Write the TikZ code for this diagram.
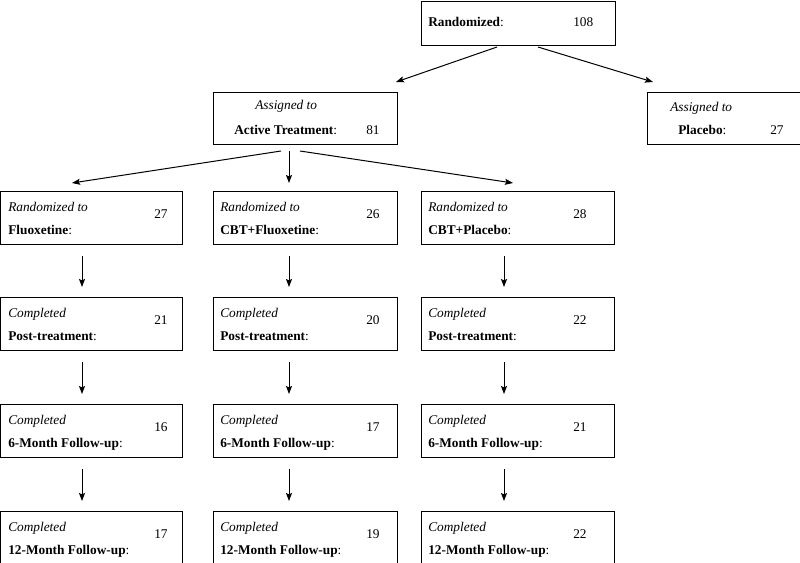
\documentclass[tikz,border=0pt]{standalone}
\usepackage{fontspec}
\setmainfont{Liberation Serif}
\usetikzlibrary{arrows.meta,calc}
\begin{document}
\begin{tikzpicture}[x=0.75pt,y=-0.75pt,
  box/.style={draw, line width=0.75pt, inner sep=0pt, outer sep=0pt, anchor=north west},
  cell/.style={box, minimum height=39.75pt},
  w1/.style={minimum width=136.5pt},
  w2/.style={minimum width=138pt},
  w3/.style={minimum width=144.75pt},
  lbl/.style={anchor=base west, inner sep=0pt, font=\fontsize{10}{12}\selectfont},
  arr/.style={line width=0.75pt, -{Stealth[length=6pt,width=4.5pt,inset=1pt]}}]
\useasboundingbox (0,0) rectangle (800,562);
\clip (0,0) rectangle (800,562);

% top boxes
\node[box, minimum width=145.5pt, minimum height=33pt] (R) at (421,1) {};
\node[box, minimum width=138pt, minimum height=39pt] (A) at (213,92) {};
\node[box, minimum width=114.75pt, minimum height=39pt] (P) at (647.5,92) {};

\node[lbl] (Rt) at ($(R.north west)+(7,25.5)$) {\textbf{Randomized}:};
\node[lbl] (Rn) at ($(R.north west)+(152,25.5)$) {108};
\node[lbl] (At1) at ($(A.north west)+(42,17.5)$) {\textit{Assigned to}};
\node[lbl] (At2) at ($(A.north west)+(21,42)$) {\textbf{Active Treatment}:};
\node[lbl] (An) at ($(A.north west)+(153,42)$) {81};
\node[lbl] (Pt1) at ($(P.north west)+(22.5,19)$) {\textit{Assigned to}};
\node[lbl] (Pt2) at ($(P.north west)+(30.5,42)$) {\textbf{Placebo}:};
\node[lbl] (Pn) at ($(P.north west)+(122.5,42)$) {27};

% grid boxes
\node[cell,w1] (a2) at (0.5,191) {};
\node[cell,w2] (b2) at (213,191) {};
\node[cell,w3] (c2) at (421,191) {};
\node[cell,w1] (a3) at (0.5,297) {};
\node[cell,w2] (b3) at (213,297) {};
\node[cell,w3] (c3) at (421,297) {};
\node[cell,w1] (a4) at (0.5,404) {};
\node[cell,w2] (b4) at (213,404) {};
\node[cell,w3] (c4) at (421,404) {};
\node[cell,w1] (a5) at (0.5,511) {};
\node[cell,w2] (b5) at (213,511) {};
\node[cell,w3] (c5) at (421,511) {};

% row 2 texts
\node[lbl] (a2i) at ($(a2.north west)+(7.5,20.5)$) {\textit{Randomized to}};
\node[lbl] (a2b) at ($(a2.north west)+(7.5,43)$) {\textbf{Fluoxetine}:};
\node[lbl] (a2n) at ($(a2.north west)+(153.5,27)$) {27};
\node[lbl] (b2i) at ($(b2.north west)+(7,20.5)$) {\textit{Randomized to}};
\node[lbl] (b2b) at ($(b2.north west)+(7,43)$) {\textbf{CBT+Fluoxetine}:};
\node[lbl] (b2n) at ($(b2.north west)+(153,27)$) {26};
\node[lbl] (c2i) at ($(c2.north west)+(7,20.5)$) {\textit{Randomized to}};
\node[lbl] (c2b) at ($(c2.north west)+(7,43)$) {\textbf{CBT+Placebo}:};
\node[lbl] (c2n) at ($(c2.north west)+(152,27)$) {28};

% row 3 texts
\node[lbl] (a3i) at ($(a3.north west)+(7.5,20.5)$) {\textit{Completed}};
\node[lbl] (a3b) at ($(a3.north west)+(7.5,43)$) {\textbf{Post-treatment}:};
\node[lbl] (a3n) at ($(a3.north west)+(153.5,27)$) {21};
\node[lbl] (b3i) at ($(b3.north west)+(7,20.5)$) {\textit{Completed}};
\node[lbl] (b3b) at ($(b3.north west)+(7,43)$) {\textbf{Post-treatment}:};
\node[lbl] (b3n) at ($(b3.north west)+(153,27)$) {20};
\node[lbl] (c3i) at ($(c3.north west)+(7,20.5)$) {\textit{Completed}};
\node[lbl] (c3b) at ($(c3.north west)+(7,43)$) {\textbf{Post-treatment}:};
\node[lbl] (c3n) at ($(c3.north west)+(152,27)$) {22};

% row 4 texts
\node[lbl] (a4i) at ($(a4.north west)+(7.5,20.5)$) {\textit{Completed}};
\node[lbl] (a4b) at ($(a4.north west)+(7.5,43)$) {\textbf{6-Month Follow-up}:};
\node[lbl] (a4n) at ($(a4.north west)+(153.5,27)$) {16};
\node[lbl] (b4i) at ($(b4.north west)+(7,20.5)$) {\textit{Completed}};
\node[lbl] (b4b) at ($(b4.north west)+(7,43)$) {\textbf{6-Month Follow-up}:};
\node[lbl] (b4n) at ($(b4.north west)+(153,27)$) {17};
\node[lbl] (c4i) at ($(c4.north west)+(7,20.5)$) {\textit{Completed}};
\node[lbl] (c4b) at ($(c4.north west)+(7,43)$) {\textbf{6-Month Follow-up}:};
\node[lbl] (c4n) at ($(c4.north west)+(152,27)$) {21};

% row 5 texts
\node[lbl] (a5i) at ($(a5.north west)+(7.5,20.5)$) {\textit{Completed}};
\node[lbl] (a5b) at ($(a5.north west)+(7.5,43)$) {\textbf{12-Month Follow-up}:};
\node[lbl] (a5n) at ($(a5.north west)+(153.5,27)$) {17};
\node[lbl] (b5i) at ($(b5.north west)+(7,20.5)$) {\textit{Completed}};
\node[lbl] (b5b) at ($(b5.north west)+(7,43)$) {\textbf{12-Month Follow-up}:};
\node[lbl] (b5n) at ($(b5.north west)+(153,27)$) {19};
\node[lbl] (c5i) at ($(c5.north west)+(7,20.5)$) {\textit{Completed}};
\node[lbl] (c5b) at ($(c5.north west)+(7,43)$) {\textbf{12-Month Follow-up}:};
\node[lbl] (c5n) at ($(c5.north west)+(152,27)$) {22};

% arrows from top
\draw[arr] ($(R.south west)+(76,2)$) -- ($(A.north east)+(-1,-10)$);
\draw[arr] ($(R.south west)+(117,2)$) -- ($(P.north west)+(5.5,-10)$);
\draw[arr] ($(A.south west)+(68,7)$) -- ($(a2.north west)+(71.5,-8)$);
\draw[arr] ($(A.south west)+(76,7)$) -- ($(b2.north west)+(76,-8)$);
\draw[arr] ($(A.south west)+(87,7)$) -- ($(c2.north west)+(92,-8)$);

% vertical arrows
\foreach \u/\v in {2/3,3/4,4/5}{
  \draw[arr] ($(a\u.south west)+(81.5,12)$) -- ($(a\v.north west)+(81.5,-10)$);
  \draw[arr] ($(b\u.south west)+(76,12)$) -- ($(b\v.north west)+(76,-10)$);
  \draw[arr] ($(c\u.south west)+(83,12)$) -- ($(c\v.north west)+(83,-10)$);
}
\end{tikzpicture}
\end{document}
